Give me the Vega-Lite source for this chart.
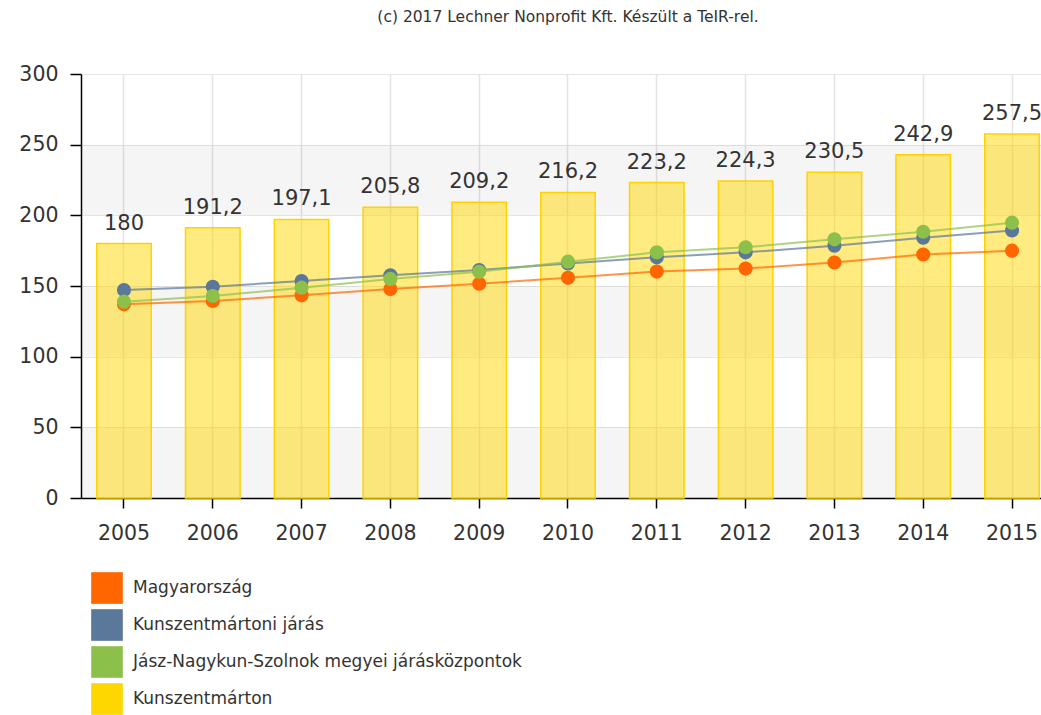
{
  "$schema": "https://vega.github.io/schema/vega-lite/v6.json",
  "width": 974,
  "height": 424,
  "padding": {"left": 18, "top": 9, "right": 0, "bottom": 0},
  "title": {"text": "(c) 2017 Lechner Nonprofit Kft. Készült a TeIR-rel.", "fontSize": 15.5, "font": "DejaVu Sans", "fontWeight": "normal", "color": "#333333", "anchor": "middle", "offset": 39},
  "config": {
    "locale": {"number": {"decimal": ",", "thousands": " ", "grouping": [3], "currency": ["", ""]}},
    "view": {"stroke": null},
    "font": "DejaVu Sans"
  },
  "datasets": {
    "bands": [
      {"lo": 0, "hi": 50},
      {"lo": 100, "hi": 150},
      {"lo": 200, "hi": 250}
    ],
    "main": [
      {"year": "2005", "series": "Kunszentmárton", "value": 180},
      {"year": "2006", "series": "Kunszentmárton", "value": 191.2},
      {"year": "2007", "series": "Kunszentmárton", "value": 197.1},
      {"year": "2008", "series": "Kunszentmárton", "value": 205.8},
      {"year": "2009", "series": "Kunszentmárton", "value": 209.2},
      {"year": "2010", "series": "Kunszentmárton", "value": 216.2},
      {"year": "2011", "series": "Kunszentmárton", "value": 223.2},
      {"year": "2012", "series": "Kunszentmárton", "value": 224.3},
      {"year": "2013", "series": "Kunszentmárton", "value": 230.5},
      {"year": "2014", "series": "Kunszentmárton", "value": 242.9},
      {"year": "2015", "series": "Kunszentmárton", "value": 257.5},
      {"year": "2005", "series": "Magyarország", "value": 137},
      {"year": "2006", "series": "Magyarország", "value": 139.4},
      {"year": "2007", "series": "Magyarország", "value": 143.4},
      {"year": "2008", "series": "Magyarország", "value": 147.8},
      {"year": "2009", "series": "Magyarország", "value": 151.6},
      {"year": "2010", "series": "Magyarország", "value": 155.8},
      {"year": "2011", "series": "Magyarország", "value": 160.2},
      {"year": "2012", "series": "Magyarország", "value": 162.3},
      {"year": "2013", "series": "Magyarország", "value": 166.6},
      {"year": "2014", "series": "Magyarország", "value": 172.3},
      {"year": "2015", "series": "Magyarország", "value": 175},
      {"year": "2005", "series": "Kunszentmártoni járás", "value": 147.2},
      {"year": "2006", "series": "Kunszentmártoni járás", "value": 149.5},
      {"year": "2007", "series": "Kunszentmártoni járás", "value": 153.5},
      {"year": "2008", "series": "Kunszentmártoni járás", "value": 157.6},
      {"year": "2009", "series": "Kunszentmártoni járás", "value": 161.3},
      {"year": "2010", "series": "Kunszentmártoni járás", "value": 166},
      {"year": "2011", "series": "Kunszentmártoni járás", "value": 170.3},
      {"year": "2012", "series": "Kunszentmártoni járás", "value": 173.8},
      {"year": "2013", "series": "Kunszentmártoni járás", "value": 178.5},
      {"year": "2014", "series": "Kunszentmártoni járás", "value": 184.2},
      {"year": "2015", "series": "Kunszentmártoni járás", "value": 189.3},
      {"year": "2005", "series": "Jász-Nagykun-Szolnok megyei járásközpontok", "value": 138.9},
      {"year": "2006", "series": "Jász-Nagykun-Szolnok megyei járásközpontok", "value": 142.9},
      {"year": "2007", "series": "Jász-Nagykun-Szolnok megyei járásközpontok", "value": 148.8},
      {"year": "2008", "series": "Jász-Nagykun-Szolnok megyei járásközpontok", "value": 155},
      {"year": "2009", "series": "Jász-Nagykun-Szolnok megyei járásközpontok", "value": 160.1},
      {"year": "2010", "series": "Jász-Nagykun-Szolnok megyei járásközpontok", "value": 167.2},
      {"year": "2011", "series": "Jász-Nagykun-Szolnok megyei járásközpontok", "value": 173.8},
      {"year": "2012", "series": "Jász-Nagykun-Szolnok megyei járásközpontok", "value": 177.4},
      {"year": "2013", "series": "Jász-Nagykun-Szolnok megyei járásközpontok", "value": 183},
      {"year": "2014", "series": "Jász-Nagykun-Szolnok megyei járásközpontok", "value": 188.4},
      {"year": "2015", "series": "Jász-Nagykun-Szolnok megyei járásközpontok", "value": 194.8}
    ]
  },
  "layer": [
    {
      "data": {"name": "bands"},
      "mark": {"type": "rect", "fill": "#000000", "opacity": 0.04},
      "encoding": {
        "y": {"field": "lo", "type": "quantitative", "scale": {"domain": [0, 300]},
              "axis": {"title": null, "values": [0, 50, 100, 150, 200, 250, 300], "labelFontSize": 20.5, "labelColor": "#333333", "labelPadding": 12,
                       "domainColor": "#000000", "domainWidth": 1.5, "tickColor": "#000000", "tickSize": 11, "tickWidth": 1.5,
                       "grid": true, "gridColor": "#e6e6e6"}},
        "y2": {"field": "hi"}
      }
    },
    {
      "data": {"name": "main"},
      "encoding": {
        "x": {
          "field": "year", "type": "ordinal",
          "scale": {"paddingInner": 0.386, "paddingOuter": 0.177},
          "axis": {"title": null, "labelAngle": 0, "labelFontSize": 20.5, "labelColor": "#333333", "labelPadding": 15,
                   "domainColor": "#000000", "domainWidth": 1.5, "tickColor": "#000000", "tickSize": 10, "tickWidth": 1.5,
                   "grid": true, "gridColor": "#e3e3e3", "gridWidth": 1.5, "tickBand": "center"}
        },
        "y": {"field": "value", "type": "quantitative"}
      },
      "layer": [
        {
          "transform": [{"filter": "datum.series === 'Kunszentmárton'"}],
          "mark": {"type": "bar", "fillOpacity": 0.5, "stroke": "#FFD200", "strokeWidth": 1.5},
          "encoding": {
            "color": {
              "field": "series", "type": "nominal",
              "scale": {
                "domain": ["Magyarország", "Kunszentmártoni járás", "Jász-Nagykun-Szolnok megyei járásközpontok", "Kunszentmárton"],
                "range": ["#FF6600", "#5A7899", "#8DC04B", "#FFD700"]
              },
              "legend": {
                "title": null, "orient": "none", "legendX": 10, "legendY": 498, "direction": "vertical",
                "symbolType": "square", "symbolSize": 1000, "symbolOpacity": 1, "symbolStrokeWidth": 0,
                "labelFontSize": 17, "labelColor": "#333333", "labelOffset": 10, "rowPadding": 5,
                "labelLimit": 600
              }
            }
          }
        },
        {
          "transform": [{"filter": "datum.series === 'Kunszentmárton'"}],
          "mark": {"type": "text", "baseline": "alphabetic", "dy": -14, "fontSize": 21, "fill": "#333333"},
          "encoding": {
            "text": {"field": "value", "type": "quantitative", "format": ".1~f"}
          }
        },
        {
          "transform": [{"filter": "datum.series !== 'Kunszentmárton'"}],
          "mark": {"type": "line", "strokeWidth": 2, "opacity": 0.7},
          "encoding": {
            "color": {"field": "series", "type": "nominal", "legend": null},
            "order": {"field": "year"}
          }
        },
        {
          "transform": [{"filter": "datum.series !== 'Kunszentmárton'"}],
          "mark": {"type": "point", "filled": true, "size": 200, "opacity": 1},
          "encoding": {
            "color": {"field": "series", "type": "nominal", "legend": null}
          }
        }
      ]
    }
  ]
}
